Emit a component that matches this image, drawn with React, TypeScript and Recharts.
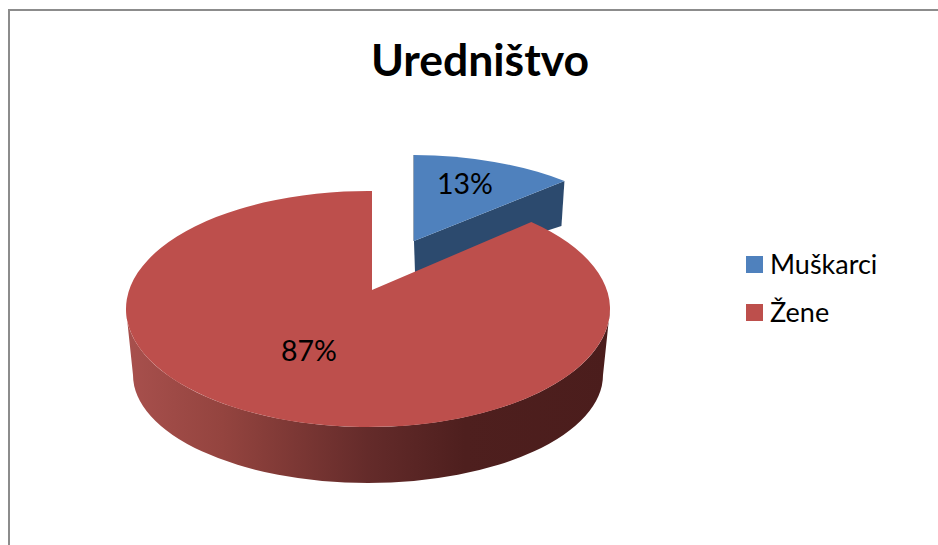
import { PieChart, Pie, Legend } from "recharts";

const categories = ["Muškarci", "Žene"];
const shares = [13, 87];
const colors = ["#4f81bd", "#bd4f4c"];
const chartTitle = "Uredništvo";

const tableData = categories.map((name, i) => ({ name, value: shares[i], fill: colors[i] }));

// perspective look: each slice gets its own ellipse and apex, angles come from the Pie
const geometry = [
  { apexX: 414, apexY: 241, ex: 411, ey: 262, rx: 235, ry: 107, tilt: 0.425, labelRx: 128, labelRy: 63 },
  { apexX: 372, apexY: 290, ex: 368, ey: 309, rx: 242, ry: 118, tilt: 0.455, labelRx: 159, labelRy: 65 },
];

const rad = (a: number) => (a * Math.PI) / 180;

// where the ray from the apex hits the slice ellipse
const rimPoint = (g: (typeof geometry)[number], angle: number) => {
  const dx = Math.cos(rad(angle));
  const dy = -Math.sin(rad(angle)) * g.tilt;
  const ox = (g.apexX - g.ex) / g.rx;
  const oy = (g.apexY - g.ey) / g.ry;
  const ux = dx / g.rx;
  const uy = dy / g.ry;
  const a = ux * ux + uy * uy;
  const b = 2 * (ox * ux + oy * uy);
  const c = ox * ox + oy * oy - 1;
  const t = (-b + Math.sqrt(b * b - 4 * a * c)) / (2 * a);
  return { x: g.apexX + dx * t, y: g.apexY + dy * t };
};

const SliceShape = (props: any) => {
  const i = props.index ?? (props.name === categories[0] ? 0 : 1);
  const g = geometry[i];
  const start = rimPoint(g, props.startAngle);
  const end = rimPoint(g, props.endAngle);
  const large = Math.abs(props.startAngle - props.endAngle) > 180 ? 1 : 0;
  const top = `M${g.apexX},${g.apexY} L${start.x},${start.y} A${g.rx},${g.ry} 0 ${large} 1 ${end.x},${end.y} Z`;

  if (i === 0) {
    // cut face below the blue wedge, the red slice covers the rest of it
    const wall = `M${g.apexX},${g.apexY} L${g.apexX + 1},${g.apexY + 32} L${end.x - 3},${end.y + 45} L${end.x},${end.y} Z`;
    return (
      <g>
        <path d={wall} fill="#2c4a6e" />
        <path d={`M${start.x},${start.y} L${g.apexX},${g.apexY}`} stroke="#2c4a6e" strokeWidth={1} />
        <path d={top} fill={props.fill} />
      </g>
    );
  }

  const left = g.ex - g.rx;
  const right = g.ex + g.rx;
  const side = `M${right},${g.ey} A${g.rx},${g.ry} 0 0 1 ${left},${g.ey} L133,375 A235,108 0 0 0 603,375 Z`;
  return (
    <g>
      <defs>
        <linearGradient id="redSide" gradientUnits="userSpaceOnUse" x1={126} y1={0} x2={610} y2={0}>
          <stop offset="0" stopColor="#a8504d" />
          <stop offset="0.2" stopColor="#94443f" />
          <stop offset="0.5" stopColor="#642b2a" />
          <stop offset="0.7" stopColor="#4e1f1e" />
          <stop offset="1" stopColor="#4b1d1c" />
        </linearGradient>
      </defs>
      <path d={side} fill="url(#redSide)" />
      <path d={top} fill={props.fill} />
    </g>
  );
};

const renderLabel = (props: any) => {
  const g = geometry[props.index];
  const x = g.apexX + Math.cos(rad(props.midAngle)) * g.labelRx;
  const y = g.apexY - Math.sin(rad(props.midAngle)) * g.labelRy;
  return (
    <text x={x} y={y} textAnchor="middle" dominantBaseline="central" fontSize={28.5} fill="#000">
      {props.value}%
    </text>
  );
};

const renderLegend = (props: any) => (
  <div>
    {(props.payload ?? []).map((entry: any) => (
      <div key={entry.value} style={{ display: "flex", alignItems: "center", height: 48 }}>
        <span style={{ width: 17, height: 17, background: entry.color, marginRight: 7 }} />
        <span style={{ fontSize: 27, color: "#000", position: "relative", top: -1 }}>{entry.value}</span>
      </div>
    ))}
  </div>
);

export default function App() {
  return (
    <div
      style={{
        position: "absolute",
        left: 0,
        top: 0,
        width: 938,
        height: 545,
        overflow: "hidden",
        background: "#fff",
        fontFamily: "Lato, sans-serif",
      }}
    >
      <div
        style={{
          position: "absolute",
          left: 8,
          top: 9,
          width: 1000,
          height: 600,
          border: "2px solid #8c8c8c",
        }}
      />
      <PieChart width={938} height={545} style={{ position: "absolute", left: 0, top: 0 }}>
        <text x={480} y={58.5} textAnchor="middle" dominantBaseline="central" fontSize={44.5} fontWeight={700} fill="#000">
          {chartTitle}
        </text>
        <Pie
          data={tableData}
          dataKey="value"
          nameKey="name"
          cx={368}
          cy={309}
          outerRadius={120}
          startAngle={90}
          endAngle={-270}
          stroke="none"
          isAnimationActive={false}
          labelLine={false}
          label={renderLabel}
          shape={SliceShape}
        />
        <Legend
          layout="vertical"
          align="left"
          verticalAlign="top"
          content={renderLegend}
          wrapperStyle={{ left: 746, top: 240, width: 180 }}
        />
      </PieChart>
    </div>
  );
}
